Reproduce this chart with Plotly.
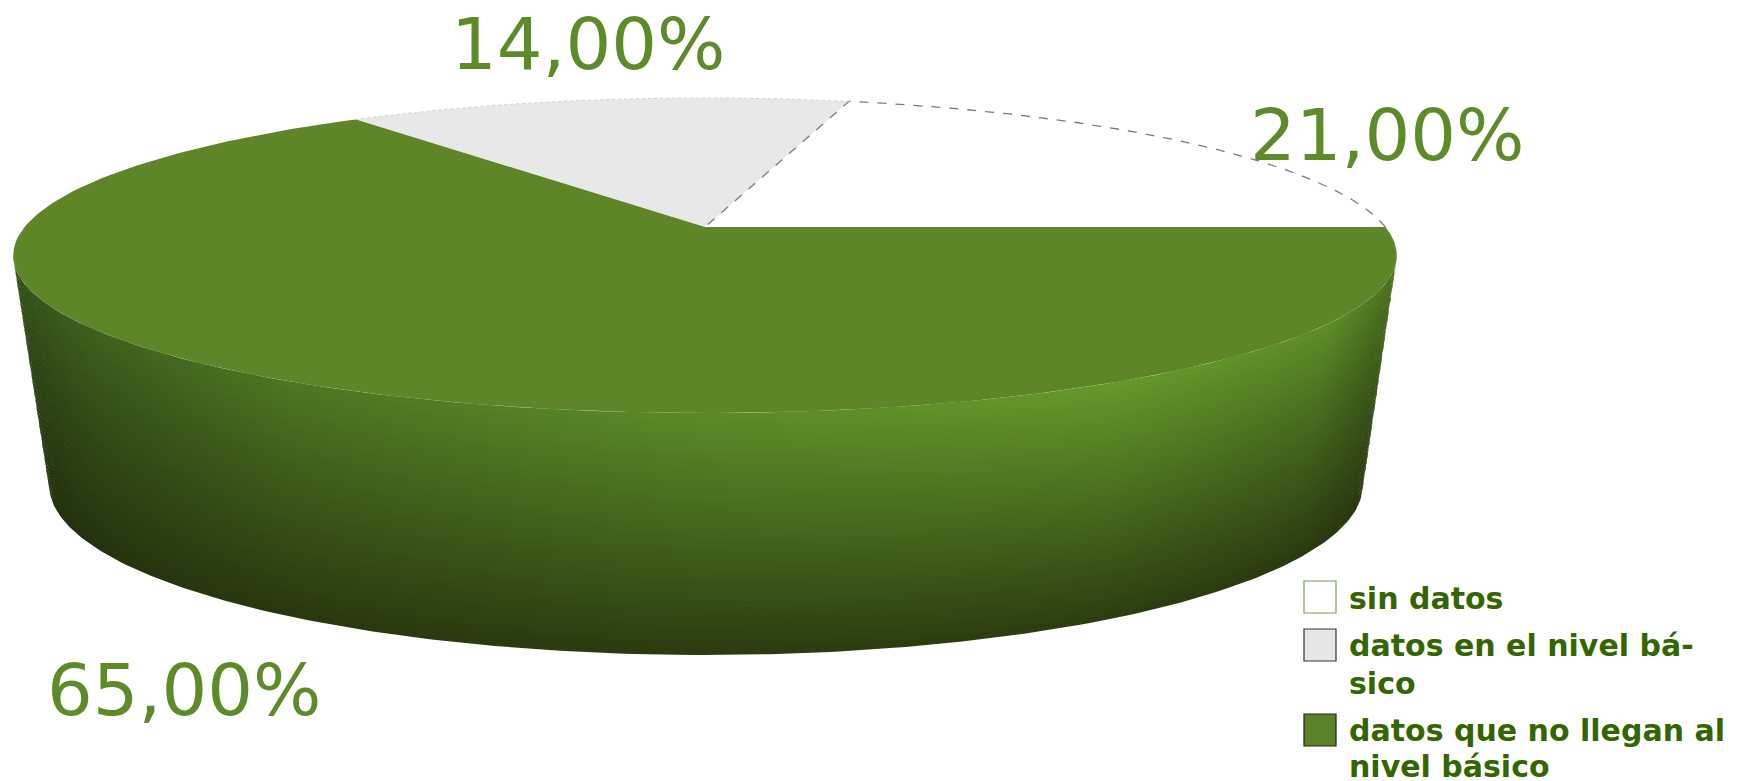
import numpy as np
import plotly.graph_objects as go

# ---------------- data ----------------
categories = ["sin datos", "datos en el nivel básico", "datos que no llegan al nivel básico"]
values = [21.0, 14.0, 65.0]
value_labels = ["21,00%", "14,00%", "65,00%"]
legend_lines = [["sin datos"], ["datos en el nivel bá-", "sico"], ["datos que no llegan al", "nivel básico"]]

# ---------------- style ----------------
W, H = 1740, 781
OFF = 8  # page body margin of the html page
slice_colors = ["#ffffff", "#e8e8e8", "#5e8628"]
legend_fill = ["#ffffff", "#e6e6e6", "#5b8226"]
legend_border = ["#7aa24a", "#333333", "#222222"]
label_color = "#5d8b2a"
legend_text_color = "#336600"
label_pos = [(1387, 135), (588, 44), (184, 690)]
legend_box_pos = [(1320, 597), (1320, 645), (1320, 730)]
legend_text_x = 1347
legend_line_y = [[598], [645, 683], [730, 766]]

# perspective camera for top face
F, S, C, D = 3677.0, 0.224, 0.9746, 5.404
CX, CY = 705.0, 227.0
# bottom ellipse
BX, BY, BA, BB = 706.0, 484.0, 657.0, 170.0


def top_pt(theta_deg):
    t = np.radians(theta_deg)
    X, Y = np.cos(t), np.sin(t)
    den = D + Y * C
    return CX + F * X / den, CY - F * Y * S / den


def bot_pt(psi_deg):
    p = np.radians(psi_deg)
    return BX + BA * np.cos(p), BY - BB * np.sin(p)


fig = go.Figure()

# ---------------- side wall (bands) ----------------
sil = np.degrees(np.arcsin(C / D))
tt = np.linspace(0, 1, 240)
tx, ty = top_pt(180 + sil + (180 - 2 * sil) * tt)
bx, by = bot_pt(180 + 180 * tt)

xn_stops = [0, 0.05, 0.2, 0.5, 0.8, 0.95, 1]
rows_u = [0.0, 0.4, 1.0]
rows = [
    ["#34501a", "#3e5e1c", "#4e7622", "#5c8a28", "#66982b", "#5e8c28", "#4a6e20"],
    ["#2c4214", "#324c16", "#3e5c1a", "#486c1e", "#4e7420", "#466a1e", "#3a5618"],
    ["#20300c", "#24340e", "#28380e", "#2a3c10", "#2c3e10", "#2a3a10", "#26360e"],
]


def hx(c):
    return np.array([int(c[i:i + 2], 16) for i in (1, 3, 5)], float)


def col_at(u, j):
    for k in range(len(rows_u) - 1):
        if rows_u[k] <= u <= rows_u[k + 1]:
            f = (u - rows_u[k]) / (rows_u[k + 1] - rows_u[k])
            c = hx(rows[k][j]) * (1 - f) + hx(rows[k + 1][j]) * f
            return "rgb(%d,%d,%d)" % tuple(np.round(c))
    return rows[-1][j]


NB = 36
for k in range(NB):
    u0, u1 = k / NB, (k + 1) / NB
    um = (u0 + u1) / 2
    x0 = (1 - u0) * tx + u0 * bx
    y0 = (1 - u0) * ty + u0 * by
    x1 = (1 - u1 - 0.004) * tx + (u1 + 0.004) * bx
    y1 = (1 - u1 - 0.004) * ty + (u1 + 0.004) * by
    xs = np.concatenate([x0, x1[::-1], x0[:1]])
    ys = np.concatenate([y0, y1[::-1], y0[:1]])
    cs = [[xn_stops[j], col_at(um, j)] for j in range(len(xn_stops))]
    fig.add_trace(go.Scatter(x=xs, y=ys, mode="lines", fill="toself",
                             line=dict(width=0), fillgradient=dict(type="horizontal", colorscale=cs),
                             hoverinfo="skip", showlegend=False))

# ---------------- top face slices ----------------
start = 0.0
total = sum(values)
bounds = []
for i, v in enumerate(values):
    a0 = start
    a1 = start + 360.0 * v / total
    bounds.append((a0, a1))
    ang = np.linspace(a0, a1, 200)
    rx, ry = top_pt(ang)
    xs = np.concatenate([[CX], rx, [CX]])
    ys = np.concatenate([[CY], ry, [CY]])
    fig.add_trace(go.Scatter(x=xs, y=ys, mode="lines", fill="toself",
                             fillcolor=slice_colors[i], line=dict(width=0),
                             hoverinfo="skip", showlegend=False))
    start = a1

# dashed outline of white slice
a0, a1 = bounds[0]
ang = np.linspace(a0, a1, 200)
rx, ry = top_pt(ang)
fig.add_trace(go.Scatter(x=np.concatenate([rx, [CX]]), y=np.concatenate([ry, [CY]]),
                         mode="lines", line=dict(color="#7d7d68", width=1.3, dash="dash"),
                         hoverinfo="skip", showlegend=False))
# subtle rim of grey slice
a0, a1 = bounds[1]
rx, ry = top_pt(np.linspace(a0, a1, 200))
fig.add_trace(go.Scatter(x=rx, y=ry, mode="lines", line=dict(color="#d0d0d0", width=1, dash="dot"),
                         hoverinfo="skip", showlegend=False))

# ---------------- value labels ----------------
for i, lab in enumerate(value_labels):
    fig.add_annotation(x=label_pos[i][0], y=label_pos[i][1], text=lab, showarrow=False,
                       xanchor="center", yanchor="middle",
                       font=dict(family="DejaVu Sans", size=72, color=label_color))

# ---------------- legend ----------------
fig.add_trace(go.Scatter(x=[p[0] for p in legend_box_pos], y=[p[1] for p in legend_box_pos],
                         mode="markers", marker=dict(symbol="square", size=32, color=legend_fill,
                                                     line=dict(color=legend_border, width=1.2)),
                         text=categories, hoverinfo="text", showlegend=False))
for i, lines in enumerate(legend_lines):
    for j, ln in enumerate(lines):
        fig.add_annotation(x=legend_text_x, y=legend_line_y[i][j], text="<b>%s</b>" % ln, showarrow=False,
                           xanchor="left", yanchor="middle",
                           font=dict(family="DejaVu Sans", size=30, color=legend_text_color))

fig.update_layout(width=W, height=H, margin=dict(l=0, r=0, t=0, b=0),
                  paper_bgcolor="white", plot_bgcolor="white",
                  xaxis=dict(range=[OFF, W + OFF], visible=False, fixedrange=True),
                  yaxis=dict(range=[H + OFF, OFF], visible=False, fixedrange=True),
                  showlegend=False)
fig.write_html("out.html")
